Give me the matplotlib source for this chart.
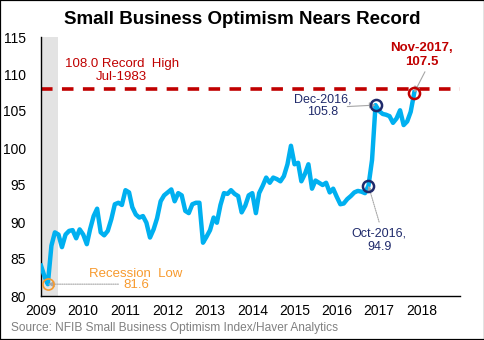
# -*- coding: utf-8 -*-

import datetime as dt

import numpy as np
import pandas as pd
import matplotlib
matplotlib.use('Agg')
import matplotlib.pyplot as plt
import matplotlib.dates as mdates
from matplotlib.patches import Rectangle

plt.rcParams['font.family'] = ['Liberation Sans', 'DejaVu Sans']

# NFIB small business optimism index, monthly from Jan-2009 to Nov-2017
optimism = [
    84.1, 82.6, 81.6, 86.8, 88.6, 88.3, 86.6, 88.3, 88.8, 88.9, 87.8, 89.0,   # 2009
    88.3, 87.0, 89.0, 90.8, 91.8, 88.6, 88.2, 88.8, 90.4, 92.4, 92.6, 92.3,   # 2010
    94.3, 94.0, 92.0, 91.0, 90.6, 90.8, 89.9, 87.9, 89.0, 90.5, 92.8, 93.6,   # 2011
    94.0, 94.4, 92.8, 93.9, 93.6, 91.5, 91.2, 92.4, 92.6, 92.6, 87.2, 88.0,   # 2012
    88.9, 90.6, 89.9, 92.3, 93.9, 93.8, 94.3, 93.8, 93.5, 91.3, 92.2, 93.6,   # 2013
    93.9, 91.2, 93.9, 94.9, 96.0, 95.3, 96.0, 95.8, 95.5, 96.2, 97.8, 100.3,  # 2014
    97.8, 98.0, 95.5, 96.5, 97.8, 94.5, 95.6, 95.3, 95.0, 95.3, 94.0, 94.5,   # 2015
    93.4, 92.4, 92.5, 93.1, 93.5, 94.0, 94.2, 94.1, 93.9, 94.9, 98.4, 105.8,  # 2016
    105.0, 104.6, 104.5, 104.3, 103.4, 104.0, 105.1, 103.1, 103.6, 104.9, 107.5,  # 2017
]
start = '2009-01-01'
record_high = 108.0
years = list(range(2009, 2019))
y_ticks = [80, 85, 90, 95, 100, 105, 110, 115]

months = pd.date_range(start, periods=len(optimism), freq='MS')
xs = mdates.date2num(months.to_pydatetime())
vals = np.array(optimism)


def at(label):
    """Index of a month given as 'YYYY-MM'."""
    return list(months.strftime('%Y-%m')).index(label)


i_low = at('2009-03')
i_oct = at('2016-10')
i_dec = at('2016-12')
i_nov = at('2017-11')

red = '#c00000'
navy = '#1f2a6b'
orange = '#f79a2e'
grey = '#a6a6a6'

fig = plt.figure(figsize=(4.85, 3.4), dpi=100)
ax = fig.add_axes([41 / 485, 44 / 340, 419 / 485, 259 / 340])

# recession shading, Jan-2009 to Jun-2009
ax.axvspan(mdates.date2num(dt.datetime(2009, 1, 1)),
           mdates.date2num(dt.datetime(2009, 6, 1)),
           color='#e3e3e3', lw=0, zorder=0)

ax.axhline(record_high, color=red, lw=2.6, dashes=(3.2, 2.6), zorder=2)
ax.plot(xs, vals, color='#00b0f0', lw=3.2, solid_joinstyle='round', zorder=3)

# highlighted months
for i, c, w in [(i_low, orange, 1.2), (i_oct, navy, 1.8),
                (i_dec, navy, 1.8), (i_nov, red, 1.8)]:
    ax.plot(xs[i], vals[i], 'o', ms=8, mfc='none', mec=c, mew=w, zorder=5)


def mx(y, m):
    return mdates.date2num(dt.datetime(y, m, 1))


arrow = dict(arrowstyle='-|>,head_length=0.35,head_width=0.18',
             color=grey, lw=0.8, shrinkA=0, shrinkB=0)

ax.text(mx(2010, 12), 110.5, '%.1f Record  High\nJul-1983' % record_high,
        color=red, fontsize=9.5, ha='center', va='center', linespacing=1.1)

ax.annotate('', xy=(xs[i_nov], vals[i_nov]), xytext=(mx(2018, 2), 110.3),
            arrowprops=arrow, zorder=4)
ax.text(mx(2018, 1), 112.6, 'Nov-2017,\n%.1f' % vals[i_nov], color=red,
        fontsize=9.5, fontweight='bold', ha='center', va='center',
        linespacing=1.2)

ax.annotate('', xy=(xs[i_dec], vals[i_dec]), xytext=(mx(2016, 4), 105.6),
            arrowprops=arrow, zorder=4)
ax.text(mx(2015, 9), 105.7, 'Dec-2016,\n%.1f' % vals[i_dec], color=navy,
        fontsize=9, ha='center', va='center', linespacing=1.15)

ax.annotate('', xy=(xs[i_oct], vals[i_oct]), xytext=(mx(2017, 1), 90.0),
            arrowprops=dict(arrow, linestyle=(0, (1, 1))), zorder=4)
ax.text(mx(2017, 1), 87.5, 'Oct-2016,\n%.1f' % vals[i_oct], color=navy,
        fontsize=9, ha='center', va='center', linespacing=1.15)

ax.annotate('', xy=(xs[i_low], vals[i_low]), xytext=(mx(2010, 11), vals[i_low]),
            arrowprops=dict(arrow, linestyle=(0, (1, 1))), zorder=4)
ax.text(mx(2011, 4), 82.2, 'Recession  Low\n%.1f' % vals[i_low], color=orange,
        fontsize=9.5, ha='center', va='center', linespacing=0.95)

ax.set_xlim(mx(2009, 1), mx(2018, 12))
ax.set_ylim(80, 115)
ax.set_xticks([mx(y, 1) for y in years])
ax.set_xticklabels([str(y) for y in years])
ax.set_yticks(y_ticks)
ax.tick_params(axis='both', length=0, labelsize=10, colors='black')
ax.tick_params(axis='y', pad=11)
ax.tick_params(axis='x', pad=6)
for side in ['top', 'right']:
    ax.spines[side].set_visible(False)
for side in ['left', 'bottom']:
    ax.spines[side].set_color('black')
    ax.spines[side].set_linewidth(1)

fig.text(0.5, 1 - 19 / 340, 'Small Business Optimism Nears Record',
         ha='center', va='center', fontsize=13.5, fontweight='bold')
fig.text(11 / 485, 12 / 340,
         'Source: NFIB Small Business Optimism Index/Haver Analytics',
         color='#808080', fontsize=8.6, ha='left', va='center')

fig.patches.append(Rectangle((0, 0), 1, 1, transform=fig.transFigure,
                             fill=False, ec='black', lw=1.6))

fig.savefig('out.png', dpi=100)
